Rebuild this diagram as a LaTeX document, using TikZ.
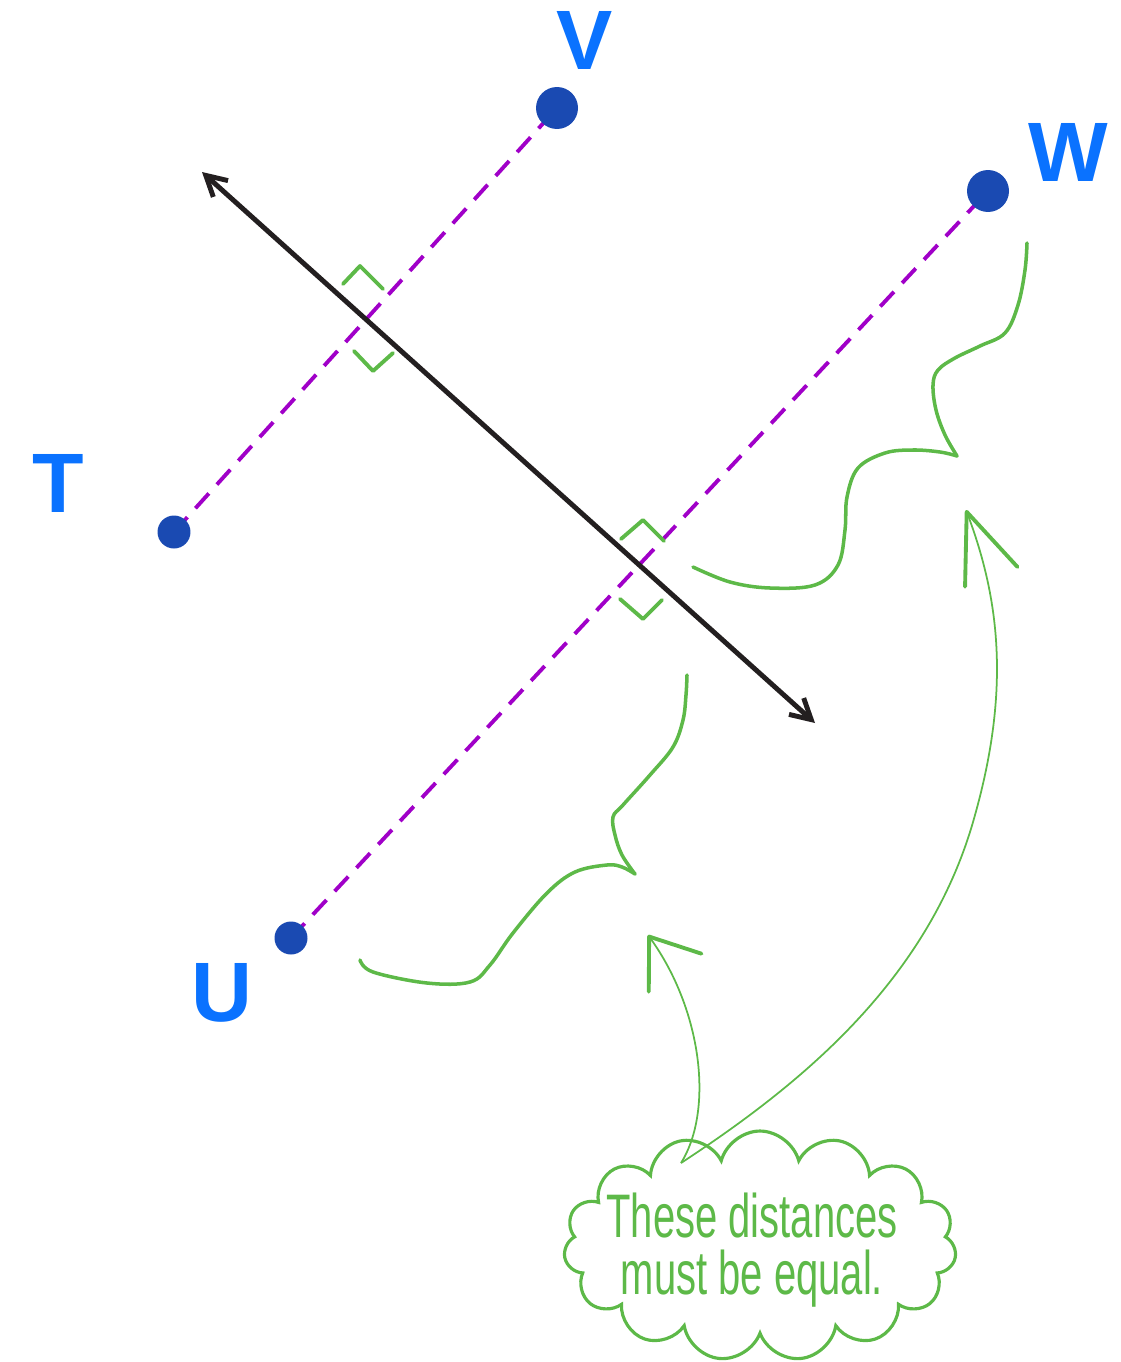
\documentclass[tikz,border=0pt]{standalone}
\usepackage{fontspec}
\setmainfont{Liberation Sans}
\newfontfamily\handfont[FakeStretch=0.65]{Liberation Sans}
\usetikzlibrary{arrows.meta,shapes.symbols,backgrounds}
\definecolor{penblue}{HTML}{0A72FF}
\definecolor{dotblue}{HTML}{1A4AB2}
\definecolor{penpurple}{HTML}{A000C8}
\definecolor{pengreen}{HTML}{5DB948}
\definecolor{penblack}{HTML}{231F20}
\tikzset{
  dot/.style={circle, fill=dotblue, inner sep=0pt, minimum size=#1},
  letter/.style={text=penblue, font=\bfseries\fontsize{48}{48}\selectfont},
  perp/.style={penpurple, line width=2.2pt, dash pattern=on 0.4cm off 0.24cm},
  axis/.style={penblack, line width=2.8pt, {Straight Barb[length=4mm,width=4.4mm]}-{Straight Barb[length=4mm,width=4.4mm]}},
  corner/.style={pengreen, line width=2.2pt, line cap=round, line join=round},
  brace/.style={pengreen, line width=2pt, line cap=round},
  pointer/.style={pengreen, line width=1pt},
  bubble/.style={cloud, cloud puffs=15, cloud ignores aspect, draw=pengreen, line width=1.8pt, inner sep=0pt, minimum width=7.85cm, minimum height=4.6cm},
  notetext/.style={text=pengreen, align=center, font=\handfont\fontsize{35}{32}\selectfont}
}

\begin{document}
\begin{tikzpicture}[x=0.02cm, y=-0.02cm]
  \useasboundingbox (0,0) rectangle (1120,1362);

  % points and their letters
  \node[dot=0.84cm] (V) at (557,108) {};
  \node[dot=0.84cm] (W) at (988,191) {};
  \node[dot=0.66cm] (T) at (174,532) {};
  \node[dot=0.66cm] (U) at (291,938) {};
  \node[letter] (labV) at (585,40) {V};
  \node[letter] (labW) at (1068,152) {W};
  \node[letter] (labT) at (58,483) {T};
  \node[letter] (labU) at (222,993) {U};

  \begin{scope}[on background layer]
    \draw[perp] (T.center) -- (V.center);
    \draw[perp] (U.center) -- (W.center);
  \end{scope}

  % the line
  \coordinate (dirA) at (202,172);
  \coordinate (dirB) at (815,723);
  \draw[axis] (dirA) -- (dirB);

  % right angle ticks
  \draw[corner] (343,284) -- (360,266) -- (383,289);
  \draw[corner] (354,351) -- (373,371) -- (393,353);
  \draw[corner] (621,539) -- (643,520) -- (664,541);
  \draw[corner] (620,599) -- (643,619) -- (662,600);

  % braces
  \draw[brace] plot[smooth, tension=0.6] coordinates {(693,567) (730,582) (770,588) (815,585) (838,565) (845,530) (847,497) (858,468) (885,453) (913,450) (940,452) (957,456)};
  \draw[brace] plot[smooth, tension=0.6] coordinates {(957,456) (945,435) (936,410) (933,385) (938,370) (955,358) (980,346) (1005,333) (1018,305) (1025,270) (1027,243)};
  \draw[brace] plot[smooth, tension=0.6] coordinates {(360,960) (373,972) (427,983) (470,982) (490,965) (513,933) (547,893) (575,872) (607,865) (622,867) (635,874)};
  \draw[brace] plot[smooth, tension=0.6] coordinates {(635,874) (622,855) (615,835) (613,817) (623,805) (650,775) (673,747) (683,720) (686,695) (687,675)};

  % note
  \node[bubble] (note) at (760,1246) {};
  \node[notetext] (notetext) at (752,1250) {These distances\\must be equal.};
  \coordinate (src) at (681,1163);
  \coordinate (tipU) at (648,935);
  \coordinate (tipW) at (966,510);
  \draw[pointer, -{Straight Barb[length=8.9mm, width=13mm, line width=2.2pt, round]}] (src) .. controls (714,1110) and (702,1010) .. (tipU);
  \draw[pointer, -{Straight Barb[length=13.9mm, width=11.2mm, line width=2.2pt, round]}] (src) .. controls (800,1085) and (930,980) .. (975,815) .. controls (1010,690) and (1000,600) .. (tipW);
\end{tikzpicture}
\end{document}
